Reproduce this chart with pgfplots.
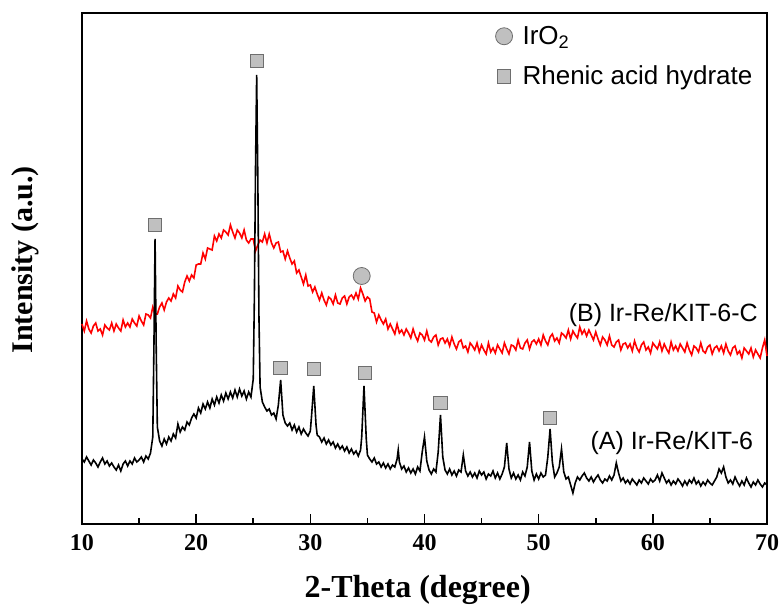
\documentclass[border=0pt]{standalone}
\usepackage{pgfplots}
\pgfplotsset{compat=1.18}
\usepackage{fontspec}
\setmainfont{Liberation Serif}
\newfontfamily\arial{Liberation Sans}
\definecolor{mkfill}{HTML}{C0C0C0}
\definecolor{mkdraw}{HTML}{6E6E6E}
\begin{document}
\begin{tikzpicture}
\path[use as bounding box] (-82pt,-89pt) rectangle (700pt,524pt);
\begin{axis}[
  scale only axis,
  width=685pt, height=511pt,
  xmin=10, xmax=70, ymin=-27, ymax=484,
  xtick={10,20,...,70}, minor x tick num=1,
  ytick=\empty,
  xtick pos=bottom,
  tick align=inside,
  major tick length=10pt, minor tick length=6pt,
  axis line style={line width=2pt},
  every tick/.style={line width=1.5pt, black},
  /pgf/number format/assume math mode=true,
  xticklabel style={font=\fontsize{24}{24}\selectfont\bfseries, yshift=-7pt},
  xlabel={2-Theta (degree)},
  ylabel={Intensity (a.u.)},
  xlabel style={font=\fontsize{32}{32}\selectfont\bfseries, at={(axis description cs:0.49,-0.129)}, anchor=center},
  ylabel style={font=\fontsize{30}{30}\selectfont\bfseries, at={(axis description cs:-0.083,0.517)}, anchor=center},
  legend style={draw=none, fill=none, at={(axis description cs:0.602,0.980)}, anchor=north west,
    font=\arial\fontsize{26}{29}\selectfont, row sep=16pt, inner sep=1pt,
    /tikz/every odd column/.style={column sep=8pt}},
  legend cell align=left,
  legend image code/.code={\draw[#1] plot coordinates {(7pt,0pt)};},
  clip=false,
]
% (B) Ir-Re/KIT-6-C
\addplot[red, line width=1.6pt, forget plot] table {
x y
10.0 173
10.2 166
10.4 176
10.6 168
10.8 164
11.0 171
11.2 174
11.4 166
11.6 168
11.8 162
12.0 172
12.2 169
12.4 167
12.6 174
12.8 166
13.0 173
13.2 169
13.4 166
13.6 177
13.8 170
14.0 174
14.2 170
14.4 178
14.6 174
14.8 171
15.0 181
15.2 176
15.4 172
15.6 183
15.8 182
16.0 179
16.2 190
16.4 183
16.6 183
16.8 190
17.0 194
17.2 187
17.4 195
17.6 199
17.8 196
18.0 203
18.2 199
18.4 211
18.6 207
18.8 205
19.0 215
19.2 221
19.4 216
19.6 222
19.8 219
20.0 232
20.2 233
20.4 233
20.6 244
20.8 238
21.0 249
21.2 248
21.4 247
21.6 261
21.8 256
22.0 263
22.2 259
22.4 267
22.6 265
22.8 262
23.0 272
23.2 265
23.4 259
23.6 267
23.8 264
24.0 259
24.2 267
24.4 257
24.6 254
24.8 258
25.0 258
25.2 246
25.4 252
25.6 257
25.8 255
26.0 263
26.2 254
26.4 263
26.6 254
26.8 249
27.0 254
27.2 255
27.4 245
27.6 246
27.8 238
28.0 246
28.2 239
28.4 233
28.6 236
28.8 224
29.0 227
29.2 220
29.4 213
29.6 222
29.8 211
30.0 212
30.2 205
30.4 210
30.6 203
30.8 197
31.0 204
31.2 197
31.4 192
31.6 200
31.8 198
32.0 193
32.2 202
32.4 194
32.6 193
32.8 199
33.0 201
33.2 193
33.4 200
33.6 202
33.8 198
34.0 204
34.2 198
34.4 209
34.6 203
34.8 196
35.0 200
35.2 198
35.4 185
35.6 184
35.8 175
36.0 182
36.2 177
36.4 173
36.6 178
36.8 168
37.0 173
37.2 168
37.4 163
37.6 173
37.8 164
38.0 167
38.2 162
38.4 168
38.6 164
38.8 159
39.0 168
39.2 161
39.4 156
39.6 164
39.8 162
40.0 157
40.2 166
40.4 157
40.6 155
40.8 160
41.0 162
41.2 152
41.4 158
41.6 159
41.8 154
42.0 158
42.2 151
42.4 160
42.6 153
42.8 148
43.0 155
43.2 157
43.4 149
43.6 151
43.8 145
44.0 154
44.2 151
44.4 147
44.6 154
44.8 145
45.0 152
45.2 147
45.4 143
45.6 154
45.8 145
46.0 149
46.2 144
46.4 152
46.6 148
46.8 144
47.0 154
47.2 148
47.4 143
47.6 152
47.8 151
48.0 147
48.2 157
48.4 149
48.6 148
48.8 154
49.0 157
49.2 148
49.4 155
49.6 157
49.8 153
50.0 158
50.2 152
50.4 162
50.6 156
50.8 152
51.0 160
51.2 163
51.4 156
51.6 159
51.8 154
52.0 164
52.2 162
52.4 159
52.6 167
52.8 158
53.0 166
53.2 162
53.4 159
53.6 170
53.8 163
54.0 167
54.2 161
54.4 167
54.6 162
54.8 157
55.0 165
55.2 158
55.4 152
55.6 160
55.8 157
56.0 152
56.2 161
56.4 152
56.6 150
56.8 155
57.0 157
57.2 147
57.4 153
57.6 154
57.8 149
58.0 153
58.2 146
58.4 156
58.6 149
58.8 145
59.0 152
59.2 155
59.4 147
59.6 150
59.8 144
60.0 154
60.2 151
60.4 148
60.6 155
60.8 146
61.0 153
61.2 148
61.4 144
61.6 155
61.8 147
62.0 151
62.2 146
62.4 153
62.6 149
62.8 145
63.0 154
63.2 147
63.4 142
63.6 151
63.8 149
64.0 145
64.2 154
64.4 146
64.6 144
64.8 150
65.0 152
65.2 143
65.4 149
65.6 151
65.8 146
66.0 151
66.2 144
66.4 153
66.6 146
66.8 142
67.0 149
67.2 151
67.4 143
67.6 146
67.8 139
68.0 149
68.2 146
68.4 143
68.6 149
68.8 140
69.0 147
69.2 143
69.4 139
69.6 149
69.8 157
70.0 141
};
% (A) Ir-Re/KIT-6
\addplot[black, line width=1.6pt, forget plot] table {
x y
10.0 38
10.2 35
10.4 40
10.6 36
10.8 32
11.0 37
11.2 34
11.4 30
11.6 35
11.8 39
12.0 33
12.2 36
12.4 31
12.6 34
12.8 30
13.0 27
13.2 32
13.4 26
13.6 33
13.8 36
14.0 31
14.2 36
14.4 33
14.6 39
14.8 35
15.0 37
15.2 40
15.4 35
15.6 41
15.8 38
16.0 44
16.2 60
16.3 150
16.4 258
16.5 150
16.6 70
16.8 56
17.0 51
17.2 58
17.4 53
17.6 60
17.8 56
18.0 63
18.2 59
18.4 73
18.6 65
18.8 70
19.0 67
19.2 75
19.4 72
19.6 79
19.8 83
20.0 79
20.2 89
20.4 84
20.6 93
20.8 88
21.0 95
21.2 89
21.4 98
21.6 92
21.8 100
22.0 94
22.2 102
22.4 96
22.6 104
22.8 98
23.0 105
23.2 99
23.4 107
23.6 100
23.8 108
24.0 101
24.2 106
24.4 98
24.6 105
24.8 100
25.0 118
25.1 200
25.2 330
25.3 422
25.4 320
25.5 180
25.6 110
25.8 95
26.0 90
26.2 86
26.4 88
26.6 82
26.8 84
27.0 78
27.2 92
27.4 117
27.6 82
27.8 74
28.0 71
28.2 74
28.4 67
28.6 72
28.8 65
29.0 70
29.2 63
29.4 68
29.6 64
29.8 61
30.0 66
30.1 80
30.3 111
30.5 72
30.6 62
30.8 60
31.0 55
31.2 59
31.4 53
31.6 57
31.8 52
32.0 55
32.2 49
32.4 53
32.6 48
32.8 51
33.0 46
33.2 50
33.4 44
33.6 48
33.8 43
34.0 46
34.2 41
34.4 47
34.5 60
34.7 111
34.9 58
35.0 42
35.2 38
35.4 35
35.6 39
35.8 33
36.0 35
36.2 30
36.4 34
36.6 29
36.8 33
37.0 28
37.2 32
37.4 30
37.6 38
37.7 47
37.8 35
38.0 28
38.2 31
38.4 25
38.6 29
38.8 24
39.0 28
39.2 23
39.4 30
39.6 26
39.8 45
40.0 60
40.2 36
40.4 27
40.6 23
40.8 28
41.0 25
41.2 45
41.4 82
41.6 40
41.8 27
42.0 23
42.2 28
42.4 22
42.6 26
42.8 21
43.0 27
43.2 25
43.4 42
43.6 26
43.8 21
44.0 25
44.2 20
44.4 24
44.6 19
44.8 26
45.0 22
45.2 25
45.4 18
45.6 23
45.8 21
46.0 26
46.2 19
46.4 24
46.6 18
46.8 23
47.0 30
47.2 54
47.4 28
47.6 19
47.8 24
48.0 18
48.2 22
48.4 17
48.6 25
48.8 21
49.0 30
49.2 55
49.4 26
49.6 17
49.8 23
50.0 18
50.2 24
50.4 20
50.6 22
50.8 40
51.0 68
51.2 35
51.4 20
51.6 24
51.8 30
52.0 48
52.2 25
52.4 18
52.6 20
52.8 12
53.0 4
53.2 14
53.4 20
53.6 17
53.8 21
54.0 24
54.2 19
54.4 16
54.6 20
54.8 15
55.0 19
55.2 22
55.4 17
55.6 14
55.8 18
56.0 16
56.2 21
56.4 17
56.6 22
56.8 34
57.0 24
57.2 16
57.4 19
57.6 14
57.8 17
58.0 13
58.2 18
58.4 15
58.6 12
58.8 17
59.0 14
59.2 19
59.4 16
59.6 13
59.8 18
60.0 15
60.2 17
60.4 22
60.6 16
60.8 24
61.0 19
61.2 14
61.4 17
61.6 12
61.8 16
62.0 13
62.2 18
62.4 15
62.6 11
62.8 16
63.0 12
63.2 17
63.4 14
63.6 19
63.8 13
64.0 16
64.2 11
64.4 15
64.6 12
64.8 17
65.0 14
65.2 12
65.4 16
65.6 20
65.8 28
66.0 24
66.2 30
66.4 20
66.6 14
66.8 17
67.0 13
67.2 20
67.4 15
67.6 11
67.8 16
68.0 12
68.2 19
68.4 14
68.6 10
68.8 15
69.0 12
69.2 17
69.4 13
69.6 10
69.8 14
70.0 12
};
% IrO2 marker
\addplot[only marks, mark=*, mark size=8.5pt, mark options={fill=mkfill, draw=mkdraw, line width=0.8pt}] coordinates {(34.5,221)};
\addlegendentry{IrO\textsubscript{2}}
% Rhenic acid hydrate markers
\addplot[only marks, mark=square*, mark size=6.75pt, mark options={fill=mkfill, draw=mkdraw, line width=0.8pt}] coordinates {
(16.4,272) (25.3,436) (27.4,129) (30.3,128) (34.8,124) (41.4,94) (51.0,79)};
\addlegendentry{Rhenic acid hydrate}
\node[anchor=east, font=\arial\fontsize{25}{28}\selectfont, inner sep=0pt] at (axis cs:69.2,182) {(B) Ir-Re/KIT-6-C};
\node[anchor=east, font=\arial\fontsize{25}{28}\selectfont, inner sep=0pt] at (axis cs:68.8,54) {(A) Ir-Re/KIT-6};
\end{axis}
\end{tikzpicture}
\end{document}
